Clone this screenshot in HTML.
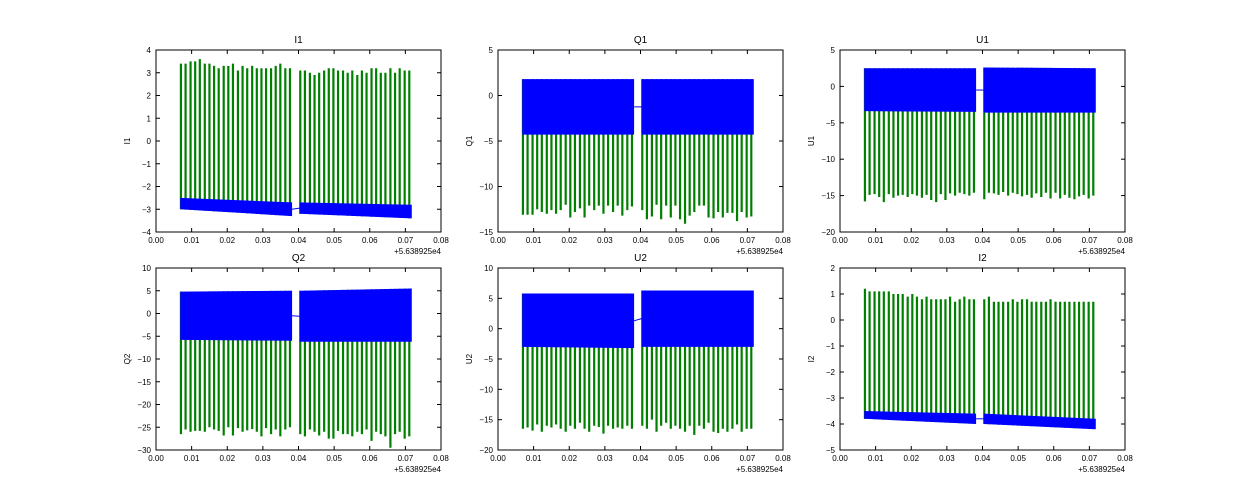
<!DOCTYPE html>
<html><head><meta charset="utf-8">
<style>
html,body{margin:0;padding:0;background:#fff;}
svg{display:block;font-family:"Liberation Sans",sans-serif;}
</style></head>
<body>
<svg id="fig" width="1250" height="500" viewBox="0 0 1250 500"></svg>
<script>
// Shared x categories (time offsets, +5.638925e4)
const spikeX = [0.0070,0.0083,0.0097,0.0110,0.0123,0.0137,0.0150,0.0163,0.0176,0.0190,0.0203,0.0216,0.0230,0.0243,0.0256,0.0270,0.0283,0.0296,0.0309,0.0323,0.0336,0.0349,0.0363,0.0376,
0.0405,0.0418,0.0432,0.0445,0.0458,0.0472,0.0485,0.0498,0.0511,0.0525,0.0538,0.0551,0.0565,0.0578,0.0591,0.0605,0.0618,0.0631,0.0644,0.0658,0.0671,0.0684,0.0698,0.0711];
const xTicks = [0.00,0.01,0.02,0.03,0.04,0.05,0.06,0.07,0.08];
const xTickLabels = ["0.00","0.01","0.02","0.03","0.04","0.05","0.06","0.07","0.08"];
const segStart = [0.0068, 0.0403];
const segEnd = [0.0382, 0.0718];

// Spike extreme values per panel
const spikeI1 = [3.4,3.4,3.5,3.5,3.6,3.4,3.4,3.3,3.2,3.3,3.3,3.4,3.1,3.3,3.2,3.3,3.2,3.2,3.2,3.2,3.3,3.4,3.2,3.2,
3.1,3.1,3.0,2.9,3.0,3.1,3.2,3.2,3.1,3.1,3.0,3.1,2.9,3.1,3.0,3.2,3.2,3.0,3.0,3.2,3.0,3.2,3.1,3.1];
const spikeQ1 = [-13.1,-13.1,-13.1,-12.5,-12.8,-13.0,-12.6,-13.0,-12.6,-12.0,-13.4,-12.8,-12.4,-13.4,-12.1,-12.6,-12.1,-13.0,-12.1,-12.8,-12.1,-13.2,-12.6,-12.2,
-12.6,-13.6,-13.3,-12.0,-13.6,-12.1,-13.4,-12.1,-13.6,-14.1,-13.2,-12.8,-12.1,-12.1,-13.4,-13.5,-12.8,-13.4,-12.9,-12.9,-13.8,-12.8,-13.4,-13.3];
const spikeU1 = [-15.8,-14.9,-14.8,-15.2,-15.9,-14.8,-15.3,-15.0,-14.9,-15.2,-14.8,-15.0,-15.3,-14.9,-15.6,-15.9,-14.8,-15.6,-14.7,-15.0,-14.6,-14.8,-15.0,-14.6,
-15.5,-14.6,-14.7,-14.9,-14.5,-15.0,-14.6,-14.8,-15.1,-14.9,-15.3,-14.7,-15.2,-14.6,-15.4,-14.6,-15.4,-14.9,-15.3,-15.5,-15.1,-14.9,-15.4,-15.0];
const spikeQ2 = [-26.5,-25.5,-26.0,-25.8,-25.8,-26.0,-25.0,-25.5,-25.8,-26.8,-25.0,-26.8,-25.2,-26.0,-25.7,-25.4,-26.0,-27.0,-25.2,-26.5,-25.5,-27.0,-25.5,-25.0,
-26.5,-27.0,-25.5,-26.0,-26.8,-26.0,-27.5,-27.5,-25.8,-26.5,-26.5,-27.0,-26.0,-26.5,-25.5,-28.0,-26.0,-26.5,-27.0,-29.5,-26.5,-26.0,-27.5,-27.0];
const spikeU2 = [-16.5,-16.3,-16.8,-15.8,-17.0,-16.0,-16.3,-15.8,-16.5,-17.0,-16.0,-16.5,-15.5,-16.5,-17.0,-16.0,-16.2,-17.3,-16.0,-16.5,-16.3,-16.5,-16.0,-16.5,
-16.0,-16.5,-15.0,-17.0,-16.0,-15.5,-16.5,-16.0,-16.5,-17.0,-16.0,-17.5,-16.0,-16.5,-15.5,-17.0,-17.2,-16.5,-17.0,-16.5,-15.8,-17.0,-16.5,-16.5];
const spikeI2 = [1.2,1.1,1.1,1.1,1.1,1.1,1.0,1.0,1.0,0.9,1.0,0.9,0.8,0.9,0.8,0.8,0.8,0.8,0.9,0.7,0.8,0.9,0.8,0.8,
0.8,0.9,0.7,0.7,0.7,0.7,0.8,0.7,0.8,0.8,0.7,0.7,0.7,0.7,0.8,0.7,0.7,0.7,0.7,0.7,0.7,0.7,0.7,0.7];

// Blue band edges at segment start/end: [seg1start, seg1end, seg2start, seg2end]
const bandHiI1 = [-2.5,-2.7,-2.7,-2.8];
const bandLoI1 = [-3.0,-3.3,-3.2,-3.4];
const bandHiQ1 = [1.8,1.8,1.8,1.8];
const bandLoQ1 = [-4.3,-4.3,-4.3,-4.3];
const bandHiU1 = [2.5,2.5,2.6,2.5];
const bandLoU1 = [-3.4,-3.5,-3.6,-3.6];
const bandHiQ2 = [4.8,5.0,5.0,5.5];
const bandLoQ2 = [-5.8,-6.0,-6.2,-6.2];
const bandHiU2 = [5.8,5.8,6.3,6.3];
const bandLoU2 = [-3.0,-3.2,-3.0,-3.0];
const bandHiI2 = [-3.5,-3.6,-3.6,-3.8];
const bandLoI2 = [-3.8,-4.0,-4.0,-4.2];

const yTicksI1 = [-4,-3,-2,-1,0,1,2,3,4];
const yTicksQ1 = [-15,-10,-5,0,5];
const yTicksU1 = [-20,-15,-10,-5,0,5];
const yTicksQ2 = [-30,-25,-20,-15,-10,-5,0,5,10];
const yTicksU2 = [-20,-15,-10,-5,0,5,10];
const yTicksI2 = [-5,-4,-3,-2,-1,0,1,2];

const panels = [
 {name:"I1",x:156,y:50,ticks:yTicksI1,spikes:spikeI1,hi:bandHiI1,lo:bandLoI1,up:true},
 {name:"Q1",x:498,y:50,ticks:yTicksQ1,spikes:spikeQ1,hi:bandHiQ1,lo:bandLoQ1,up:false},
 {name:"U1",x:840,y:50,ticks:yTicksU1,spikes:spikeU1,hi:bandHiU1,lo:bandLoU1,up:false},
 {name:"Q2",x:156,y:268,ticks:yTicksQ2,spikes:spikeQ2,hi:bandHiQ2,lo:bandLoQ2,up:false},
 {name:"U2",x:498,y:268,ticks:yTicksU2,spikes:spikeU2,hi:bandHiU2,lo:bandLoU2,up:false},
 {name:"I2",x:840,y:268,ticks:yTicksI2,spikes:spikeI2,hi:bandHiI2,lo:bandLoI2,up:true}
];
const W=285,H=182;
const NS="http://www.w3.org/2000/svg";
const fig=document.getElementById('fig');
function mk(tag,attrs,parent){const e=document.createElementNS(NS,tag);for(const k in attrs)e.setAttribute(k,attrs[k]);parent.appendChild(e);return e;}

panels.forEach(p=>{
 const g=mk('g',{},fig);
 
 
 const ymin=p.ticks[0], ymax=p.ticks[p.ticks.length-1];
 const sx=v=>p.x+v/0.08*W;
 const sy=v=>p.y+H-(v-ymin)/(ymax-ymin)*H;
 // spikes
 spikeX.forEach((xv,i)=>{
  const s=xv<0.039?0:1;
  const t=(xv-segStart[s])/(segEnd[s]-segStart[s]);
  const base = p.up ? p.lo[2*s]+(p.lo[2*s+1]-p.lo[2*s])*t : p.hi[2*s]+(p.hi[2*s+1]-p.hi[2*s])*t;
  const l=mk('line',{x1:sx(xv),x2:sx(xv),y1:sy(base),y2:sy(p.spikes[i]),stroke:'#007f00','stroke-width':2.2},g);
  
  
 });
 // band polygons (drawn over spikes)
 for(let s=0;s<2;s++){
  const hi0=p.hi[2*s],hi1=p.hi[2*s+1],lo0=p.lo[2*s],lo1=p.lo[2*s+1];
  const pts=[[sx(segStart[s]),sy(hi0)],[sx(segEnd[s]),sy(hi1)],[sx(segEnd[s]),sy(lo1)],[sx(segStart[s]),sy(lo0)]].map(a=>a.join(',')).join(' ');
  const b=mk('polygon',{points:pts,fill:'#0000ff'},g);
  
  
 }
 // connecting line across gap
 const mid0=(p.hi[1]+p.lo[1])/2, mid1=(p.hi[2]+p.lo[2])/2;
 const cl=mk('line',{x1:sx(segEnd[0]),y1:sy(mid0),x2:sx(segStart[1]),y2:sy(mid1),stroke:'#0000ff','stroke-width':1},g);
 
 
 // frame
 const fr=mk('rect',{x:p.x,y:p.y,width:W,height:H,fill:'none',stroke:'#000','stroke-width':1},g);
 
 
 // x ticks
 xTicks.forEach((v,i)=>{
  const X=sx(v);
  mk('line',{x1:X,x2:X,y1:p.y+H,y2:p.y+H-4,stroke:'#000'},g);
  mk('line',{x1:X,x2:X,y1:p.y,y2:p.y+4,stroke:'#000'},g);
  const t=mk('text',{x:X,y:p.y+H+11,'font-size':8,'text-anchor':'middle',fill:'#000'},g);
  t.textContent=xTickLabels[i];
  
  
 });
 // y ticks
 p.ticks.forEach(v=>{
  const Y=sy(v);
  mk('line',{x1:p.x,x2:p.x+4,y1:Y,y2:Y,stroke:'#000'},g);
  mk('line',{x1:p.x+W,x2:p.x+W-4,y1:Y,y2:Y,stroke:'#000'},g);
  const t=mk('text',{x:p.x-5,y:Y+3,'font-size':8,'text-anchor':'end',fill:'#000'},g);
  t.textContent=String(v).replace('-','\u2212');
  
  
 });
 // title
 const ti=mk('text',{x:p.x+W/2,y:p.y-7,'font-size':10,'text-anchor':'middle',fill:'#000'},g);
 ti.textContent=p.name;
 
 
 // y label
 const yl=mk('text',{x:0,y:0,'font-size':8,'text-anchor':'middle',fill:'#000',transform:`translate(${p.x-26},${p.y+H/2}) rotate(-90)`},g);
 yl.textContent=p.name;
 
 
 // offset text
 const ot=mk('text',{x:p.x+W,y:p.y+H+22,'font-size':8,'text-anchor':'end',fill:'#000'},g);
 ot.textContent='+5.638925e4';
 
 
});
</script>
</body></html>
